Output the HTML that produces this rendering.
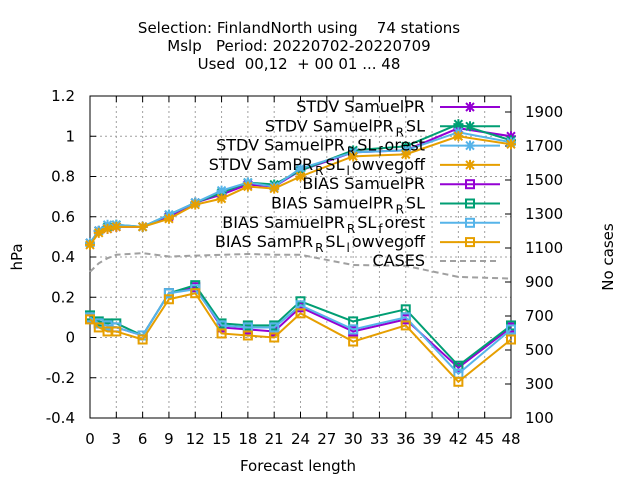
<!DOCTYPE html>
<html><head><meta charset="utf-8"><style>
body{margin:0;background:#fff}
svg{display:block;font-family:"DejaVu Sans","Liberation Sans",sans-serif}
</style></head><body>
<svg id="chart" width="640" height="480" viewBox="0 0 640 480" xmlns="http://www.w3.org/2000/svg">
<rect width="640" height="480" fill="#fff"/>
<g font-size="15" text-anchor="middle" fill="#000">
<text x="299" y="33" xml:space="preserve">Selection: FinlandNorth using    74 stations</text>
<text x="299" y="51" xml:space="preserve">Mslp   Period: 20220702-20220709</text>
<text x="299" y="69" xml:space="preserve">Used  00,12  + 00 01 ... 48</text>
<text x="298" y="471">Forecast length</text>
<text transform="translate(22,257) rotate(-90)">hPa</text>
<text transform="translate(613,257) rotate(-90)">No cases</text>
</g>
<g id="grid"></g><g id="axes"></g><g id="series"></g><g id="legend"></g>
</svg>
<script>
const hours=[0,1,2,3,6,9,12,15,18,21,24,30,36,42,48];
const xTicks=[0,3,6,9,12,15,18,21,24,27,30,33,36,39,42,45,48];
const yTicks=[-0.4,-0.2,0,0.2,0.4,0.6,0.8,1,1.2];
const y2Ticks=[100,300,500,700,900,1100,1300,1500,1700,1900];
const stdvPR=[0.47,0.53,0.54,0.55,0.55,0.60,0.67,0.71,0.76,0.75,0.83,0.92,0.93,1.04,1.00];
const stdvRSL=[0.47,0.53,0.55,0.56,0.55,0.61,0.67,0.72,0.77,0.76,0.83,0.93,0.95,1.06,0.98];
const stdvForest=[0.47,0.53,0.56,0.56,0.55,0.61,0.67,0.73,0.77,0.75,0.84,0.92,0.93,1.02,0.97];
const stdvLow=[0.46,0.52,0.54,0.55,0.55,0.59,0.66,0.69,0.75,0.74,0.80,0.90,0.91,1.00,0.96];
const biasPR=[0.10,0.07,0.06,0.05,0.01,0.22,0.25,0.05,0.04,0.03,0.15,0.03,0.09,-0.15,0.05];
const biasRSL=[0.11,0.08,0.07,0.07,0.01,0.22,0.26,0.07,0.06,0.06,0.18,0.08,0.14,-0.14,0.06];
const biasForest=[0.10,0.07,0.06,0.05,0.01,0.22,0.24,0.06,0.05,0.05,0.16,0.04,0.10,-0.18,0.04];
const biasLow=[0.09,0.05,0.03,0.03,-0.01,0.19,0.22,0.02,0.01,0.00,0.12,-0.02,0.06,-0.22,-0.01];
const cases=[960,1010,1040,1060,1070,1050,1055,1060,1065,1060,1060,1000,995,930,920];

const L=90,R=511,T=96,B=418;
const X=h=>L+(h-0)/48*(R-L);
const Y=v=>B-(v+0.4)/1.6*(B-T);
const Y2=c=>B-(c-100)/1800*(B-112);
const NS="http://www.w3.org/2000/svg";
function mk(tag,attrs,parent,txt){const e=document.createElementNS(NS,tag);for(const k in attrs)e.setAttribute(k,attrs[k]);if(txt!==undefined)e.textContent=txt;parent.appendChild(e);return e;}
const grid=document.getElementById('grid'),axes=document.getElementById('axes'),series=document.getElementById('series'),legend=document.getElementById('legend');
xTicks.forEach(t=>{
  if(t>0&&t<48){const g=mk('line',{x1:X(t),x2:X(t),y1:T,y2:B,stroke:'#a0a0a0','stroke-dasharray':'2,3','stroke-width':1},grid);
  
  }
  mk('line',{x1:X(t),x2:X(t),y1:B,y2:B-6,stroke:'#000'},axes);
  mk('line',{x1:X(t),x2:X(t),y1:T,y2:T+6,stroke:'#000'},axes);
  const tx=mk('text',{x:X(t),y:444,'font-size':15,'text-anchor':'middle'},axes,String(t));
  
  
});
yTicks.forEach(t=>{
  if(t>-0.4&&t<1.2){const g=mk('line',{x1:L,x2:R,y1:Y(t),y2:Y(t),stroke:'#a0a0a0','stroke-dasharray':'2,3'},grid);
  
  }
  mk('line',{x1:L,x2:L+6,y1:Y(t),y2:Y(t),stroke:'#000'},axes);
  const tx=mk('text',{x:75,y:Y(t)+5,'font-size':15,'text-anchor':'end'},axes,String(t));
  
  
});
y2Ticks.forEach(t=>{
  mk('line',{x1:R,x2:R-6,y1:Y2(t),y2:Y2(t),stroke:'#000'},axes);
  const tx=mk('text',{x:525,y:Y2(t)+5,'font-size':15,'text-anchor':'start'},axes,String(t));
  
  
});
const frame=mk('rect',{x:L,y:T,width:R-L,height:B-T,fill:'none',stroke:'#000','stroke-width':1},axes);



function star(g,x,y,c){mk('path',{d:`M${x-4} ${y-4}L${x+4} ${y+4}M${x-4} ${y+4}L${x+4} ${y-4}M${x-5} ${y}L${x+5} ${y}M${x} ${y-5}L${x} ${y+5}`,stroke:c,'stroke-width':2},g);}
function box(g,x,y,c){mk('rect',{x:x-4,y:y-4,width:8,height:8,fill:'none',stroke:c,'stroke-width':2},g);}
const defs=[
 {name:'stdv-samuelpr',vals:stdvPR,c:'#9400d3',m:star,lab:['STDV SamuelPR']},
 {name:'stdv-samuelpr-rsl',vals:stdvRSL,c:'#009e73',m:star,lab:['STDV SamuelPR','R','SL']},
 {name:'stdv-samuelpr-rsl-forest',vals:stdvForest,c:'#56b4e9',m:star,lab:['STDV SamuelPR','R','SL','f','orest']},
 {name:'stdv-sampr-rsl-lowvegoff',vals:stdvLow,c:'#e69f00',m:star,lab:['STDV SamPR','R','SL','l','owvegoff']},
 {name:'bias-samuelpr',vals:biasPR,c:'#9400d3',m:box,lab:['BIAS SamuelPR']},
 {name:'bias-samuelpr-rsl',vals:biasRSL,c:'#009e73',m:box,lab:['BIAS SamuelPR','R','SL']},
 {name:'bias-samuelpr-rsl-forest',vals:biasForest,c:'#56b4e9',m:box,lab:['BIAS SamuelPR','R','SL','f','orest']},
 {name:'bias-sampr-rsl-lowvegoff',vals:biasLow,c:'#e69f00',m:box,lab:['BIAS SamPR','R','SL','l','owvegoff']},
];
defs.forEach((d,i)=>{
  const g=mk('g',{},series);
  
  
  mk('polyline',{points:d.vals.map((v,j)=>X(hours[j])+','+Y(v)).join(' '),fill:'none',stroke:d.c,'stroke-width':2},g);
  d.vals.forEach((v,j)=>d.m(g,X(hours[j]),Y(v),d.c));
  const ly=107+i*19.3;
  const lg=mk('g',{},legend);
  
  
  const t=mk('text',{x:425,y:ly+5,'font-size':16,'text-anchor':'end'},lg);
  d.lab.forEach((s,k)=>{mk('tspan',k%2?{'font-size':12,dy:5,dx:2}:(k>0?{dy:-5,dx:2}:{}),t,s);});
  mk('line',{x1:440,x2:500,y1:ly,y2:ly,stroke:d.c,'stroke-width':2},lg);
  d.m(lg,470,ly,d.c);
});
const cg=mk('g',{},series);


mk('polyline',{points:cases.map((v,j)=>X(hours[j])+','+Y2(v)).join(' '),fill:'none',stroke:'#a0a0a0','stroke-width':2,'stroke-dasharray':'6,4'},cg);
const clg=mk('g',{},legend);


mk('text',{x:425,y:266,'font-size':16,'text-anchor':'end'},clg,'CASES');
mk('line',{x1:440,x2:500,y1:261,y2:261,stroke:'#a0a0a0','stroke-width':2,'stroke-dasharray':'6,4'},clg);
</script>
</body></html>
